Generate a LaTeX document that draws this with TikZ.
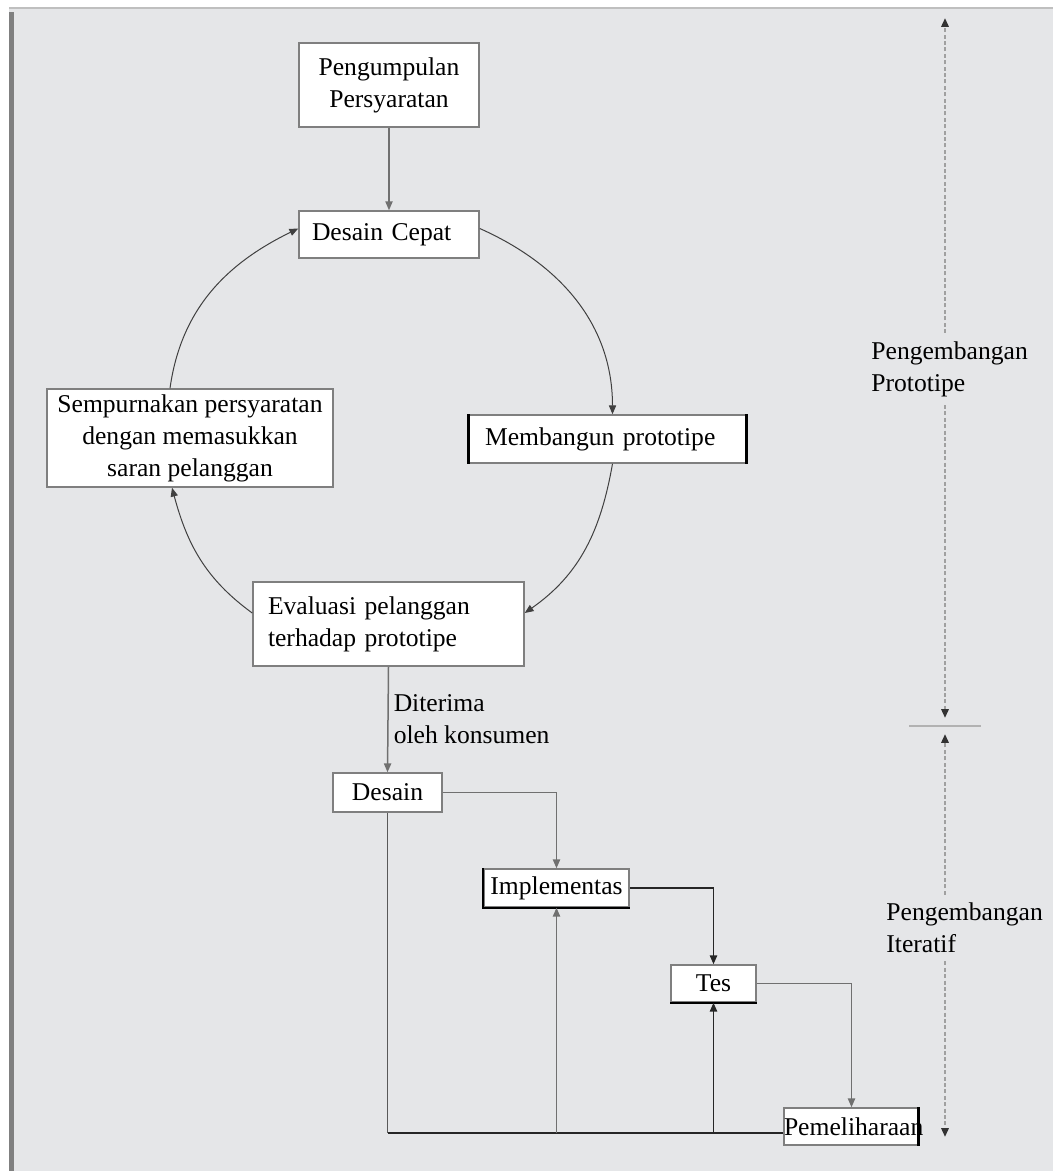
\documentclass[tikz,border=0pt]{standalone}
\usepackage{fontspec}
\setmainfont{Liberation Serif}
\usetikzlibrary{arrows.meta}
\definecolor{panel}{HTML}{E5E6E8}
\definecolor{boxgray}{HTML}{7F7F7F}
\definecolor{dashgray}{HTML}{A0A0A0}
\definecolor{linegray}{HTML}{707070}
\begin{document}
\begin{tikzpicture}[x=0.5pt,y=-0.5pt,
  font=\fontsize{12.8pt}{16pt}\selectfont,
  boxn/.style={draw=boxgray, line width=0.75pt, fill=white, inner sep=0pt},
  arr/.style={-{Triangle[length=4.4pt,width=3.6pt]}},
  circ/.style={draw=black!75, line width=0.5pt},
  conn/.style={draw=linegray, line width=0.75pt},
  connk/.style={draw=black!85, line width=0.85pt},
  fbline/.style={draw=black!85, line width=1pt},
  dashln/.style={draw=dashgray, line width=1.2pt, dash pattern=on 2pt off 1.2pt},
  darr/.style={-{Triangle[length=4.4pt,width=3.6pt,color=black!80]}},
  lbl/.style={align=left, inner xsep=0pt, inner ysep=4pt},
  thickside/.style={draw=black, line width=1.6pt}]

% background
\useasboundingbox (0,0) rectangle (1053,1171);
\fill[white] (0,0) rectangle (1053,1171);
\fill[panel] (9,9) rectangle (1053,1171);
\draw[black!25, line width=1pt] (9,8.5) -- (1053,8.5);
\fill[black!50] (9,12) rectangle (14,1171);

% boxes
\node[boxn, minimum width=90pt, minimum height=42pt, align=center] (pp) at (389,85) {Pengumpulan\\Persyaratan};
\node[boxn, minimum height=23.5pt, text width=77pt, inner xsep=6.5pt, align=left] (dc) at (389,234.5) {Desain Cepat};
\node[boxn, minimum height=24pt, text width=122.5pt, inner xsep=8.5pt, align=left] (mb) at (607.5,439) {Membangun prototipe};
\node[boxn, minimum width=143pt, minimum height=49pt, align=center] (sp) at (190,438) {Sempurnakan persyaratan\\dengan memasukkan\\saran pelanggan};
\node[boxn, minimum height=42pt, text width=120.5pt, inner xsep=7.5pt, align=left] (ev) at (388.5,624) {Evaluasi pelanggan\\terhadap prototipe};
\node[boxn, minimum width=54.5pt, minimum height=19.5pt] (de) at (387.5,792.5) {Desain};
\node[boxn, minimum width=72.5pt, minimum height=19pt] (im) at (556.5,888) {Implementas};
\node[boxn, minimum width=42.5pt, minimum height=18.5pt] (ts) at (713.5,983.5) {Tes};
\node[boxn, minimum width=67.5pt, minimum height=18.5pt] (pm) at (851.5,1126.5) {\makebox[67.5pt][l]{Pemeliharaan}};

% dark edges
\draw[thickside] ([xshift=0.8pt]mb.north west) -- ([xshift=0.8pt]mb.south west);
\draw[thickside] ([xshift=-0.8pt]mb.north east) -- ([xshift=-0.8pt]mb.south east);
\draw[black, line width=1pt] (im.north west) -- (im.south west) -- (im.south east);
\draw[black, line width=1pt] (ts.south west) -- (ts.south east);
\draw[thickside] ([xshift=-0.8pt]pm.north east) -- ([xshift=-0.8pt]pm.south east);

% prototyping cycle
\draw[conn, line width=0.6pt, arr] (pp.south) -- (dc.north);
\draw[circ, arr] ([yshift=3pt]dc.east) to[out=-24,in=90] ([xshift=2.5pt]mb.north);
\draw[circ, arr] ([xshift=2.5pt]mb.south) to[out=-100,in=35] ([yshift=5.5pt]ev.east);
\draw[circ, arr] ([yshift=5.5pt]ev.west) to[out=144,in=-75] ([xshift=-9pt]sp.south);
\draw[circ, arr] ([xshift=-10pt]sp.north) to[out=82,in=206] ([yshift=3pt]dc.west);

% iterative part
\draw[conn, arr] (ev.south) -- node[right, align=left, inner xsep=2.5pt, inner ysep=0pt] (acc) {Diterima\\oleh konsumen} (de.north);
\draw[conn, arr] (de.east) -| (im.north);
\draw[connk, arr] (im.east) -| (ts.north);
\draw[conn, arr] (ts.east) -| (pm.north);
\coordinate (fb) at (389,1133);
\draw[fbline] (pm.west |- fb) -- (de.south |- fb);
\draw[draw=black!65, line width=0.8pt] (de.south |- fb) -- (de.south);
\draw[conn, arr] (im.south |- fb) -- (im.south);
\draw[connk, arr] (ts.south |- fb) -- (ts.south);

% right scale
\coordinate (ptop) at (945,18);
\coordinate (pmid) at (945,726);
\coordinate (pbot) at (945,1137);
\node[lbl, anchor=west] (lpr) at (871,369) {Pengembangan\\Prototipe};
\node[lbl, anchor=west] (lit) at (886,928) {Pengembangan\\Iteratif};
\draw[black!30, line width=1pt] ([xshift=-18pt]pmid) -- ([xshift=18pt]pmid);
\draw[dashln, darr] (ptop |- lpr.north) -- (ptop);
\draw[dashln, darr] (ptop |- lpr.south) -- ([yshift=4pt]pmid);
\draw[dashln, darr] (ptop |- lit.north) -- ([yshift=-4pt]pmid);
\draw[dashln, darr] (ptop |- lit.south) -- (pbot);
\end{tikzpicture}
\end{document}
